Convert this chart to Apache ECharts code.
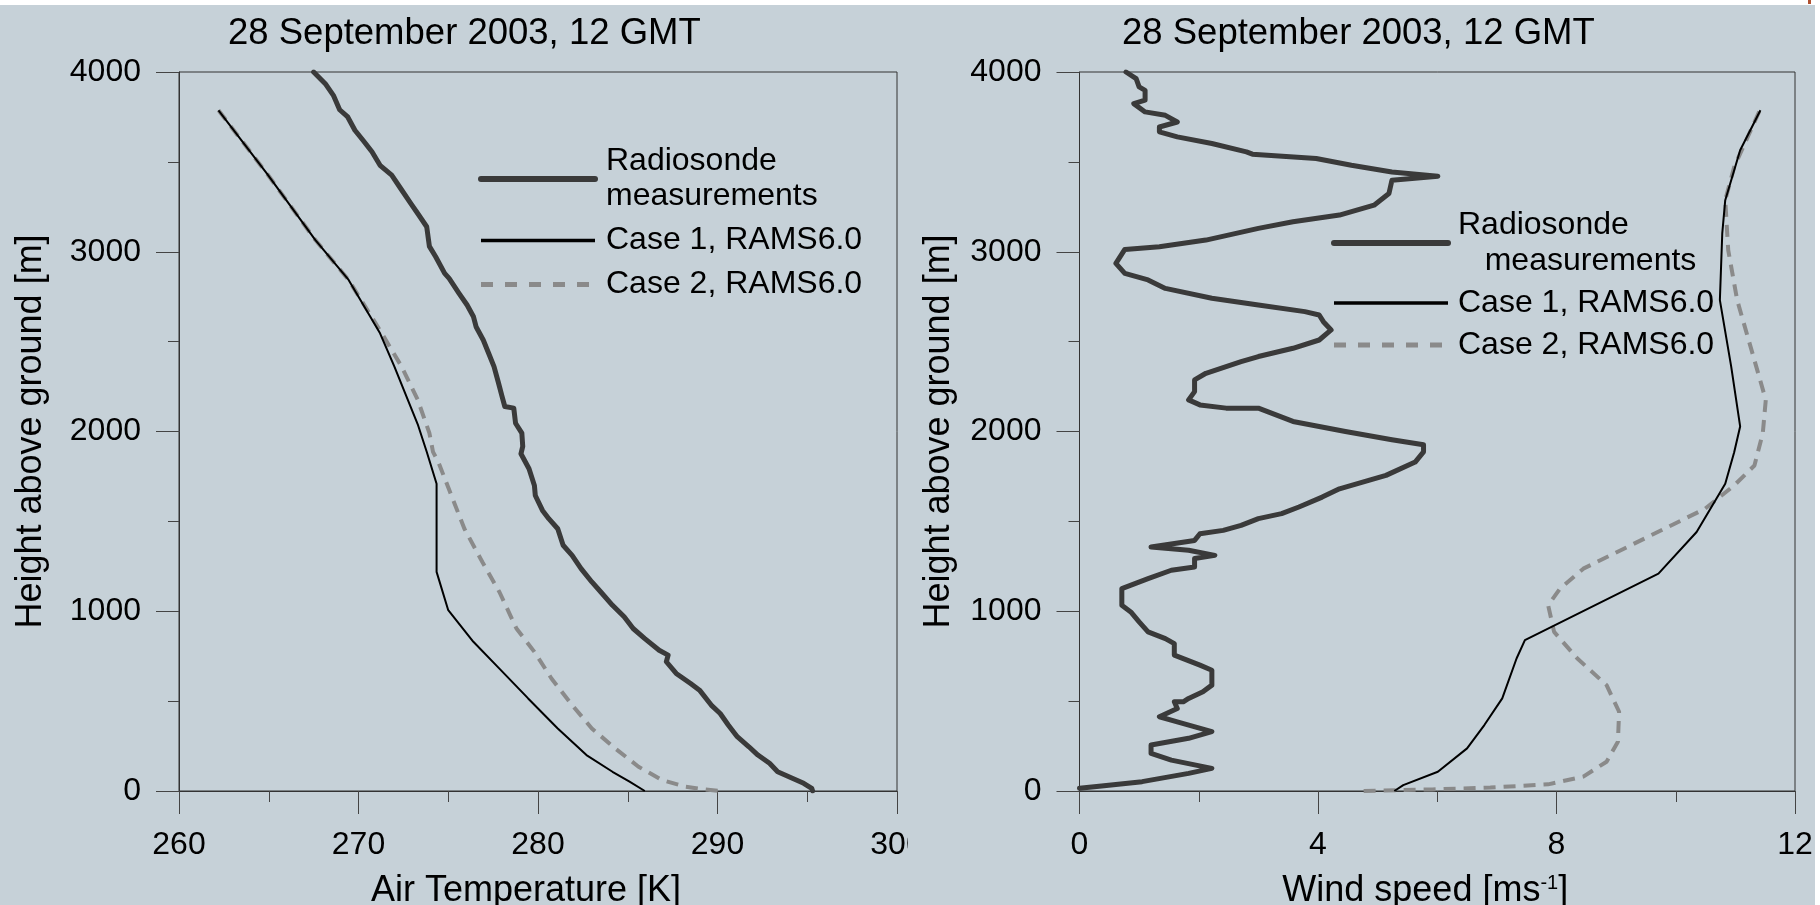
<!DOCTYPE html>
<html>
<head>
<meta charset="utf-8">
<title>Temperature and wind profiles</title>
<script src="https://cdn.jsdelivr.net/npm/echarts@6/dist/echarts.min.js"></script>
<style>
    html, body { margin: 0; padding: 0; background: #fff; }
    body { width: 1820px; height: 905px; position: relative; overflow: hidden; }
    #chartTemp { position: absolute; left: 0; top: 5px; width: 908px; height: 900px; }
    #chartWind { position: absolute; left: 908px; top: 5px; width: 907px; height: 900px; }
    #mark { position: absolute; left: 1808px; top: 0; width: 3px; height: 4px; background: #b0502f; }
</style>
</head>
<body>
<div id="chartTemp"></div>
<div id="chartWind"></div>
<div id="mark"></div>
<script>
    // titles / names
    const titleText = '28 September 2003, 12 GMT';
    const legendNames = ['Radiosonde measurements', 'Case 1, RAMS6.0', 'Case 2, RAMS6.0'];
    const heightTicks = [0, 1000, 2000, 3000, 4000];
    const tempTicks = [260, 270, 280, 290, 300];
    const windTicks = [0, 4, 8, 12];

    // air temperature [K] - radiosonde
    const tempSondeK = [267.5, 268.15, 268.6, 268.95, 269.4, 269.8, 270.25, 270.75, 271.2, 271.85, 272.35, 272.9, 273.3, 273.8, 273.95, 274.3, 274.8, 275.05, 275.6, 276.05, 276.4, 276.55, 276.95, 277.25, 277.55, 277.8, 278.0, 278.15, 278.65, 278.75, 279.1, 279.15, 279.05, 279.5, 279.8, 279.85, 280.25, 280.6, 281.1, 281.4, 281.9, 282.4, 283.0, 283.5, 284.15, 284.8, 285.3, 285.95, 286.75, 287.25, 287.15, 287.7, 288.5, 289.0, 289.65, 290.15, 290.6, 291.1, 291.75, 292.25, 292.9, 293.35, 294.2, 294.8, 295.25, 295.3];
    const tempSondeH = [4000, 3935, 3870, 3790, 3750, 3676, 3620, 3556, 3481, 3426, 3352, 3270, 3213, 3139, 3030, 2972, 2880, 2852, 2769, 2704, 2640, 2583, 2509, 2435, 2361, 2270, 2194, 2139, 2130, 2046, 1991, 1917, 1876, 1793, 1700, 1644, 1561, 1515, 1459, 1367, 1311, 1237, 1163, 1107, 1033, 969, 904, 848, 783, 756, 719, 654, 598, 561, 478, 431, 367, 302, 246, 200, 154, 107, 70, 43, 15, 0];

    // air temperature [K] - case 1
    const tempCase1K = [262.2, 264.9, 267.6, 269.45, 271.2, 272.0, 273.3, 273.8, 274.35, 274.35, 275.0, 276.4, 277.85, 279.45, 281.1, 282.7, 284.15, 285.1, 285.95];
    const tempCase1H = [3787, 3435, 3065, 2843, 2546, 2361, 2040, 1887, 1709, 1219, 1006, 830, 681, 515, 348, 200, 107, 52, 0];

    // air temperature [K] - case 2
    const tempCase2K = [262.2, 264.9, 267.6, 269.45, 271.3, 272.4, 273.3, 273.95, 274.15, 274.45, 275.1, 275.9, 276.9, 277.85, 278.8, 279.8, 280.75, 281.9, 283.0, 284.3, 285.6, 286.9, 288.2, 289.15, 290.15];
    const tempCase2H = [3787, 3435, 3065, 2843, 2546, 2361, 2176, 1991, 1887, 1830, 1663, 1459, 1274, 1107, 904, 774, 626, 478, 348, 237, 135, 61, 24, 11, 0];

    // wind speed [m/s] - radiosonde
    const windSondeV = [0.78, 0.95, 1.0, 1.1, 1.1, 0.91, 1.1, 1.44, 1.64, 1.34, 1.34, 1.64, 2.22, 2.8, 2.9, 3.97, 4.56, 5.24, 6.01, 5.24, 5.19, 4.94, 4.36, 3.58, 3.0, 2.12, 1.34, 0.76, 0.61, 0.76, 1.15, 1.44, 2.22, 3.0, 3.78, 4.02, 4.09, 4.22, 4.02, 3.58, 3.0, 2.71, 2.12, 1.93, 1.93, 1.83, 2.02, 2.46, 3.0, 3.58, 4.46, 5.24, 5.77, 5.77, 5.63, 5.14, 4.85, 4.36, 4.07, 3.68, 3.39, 3.0, 2.71, 2.41, 2.02, 1.93, 1.2, 1.83, 2.27, 1.93, 1.93, 1.54, 1.15, 0.71, 0.71, 0.86, 1.0, 1.15, 1.44, 1.59, 1.59, 2.02, 2.22, 2.22, 2.07, 1.83, 1.74, 1.59, 1.64, 1.34, 1.64, 2.22, 1.83, 1.2, 1.2, 1.54, 2.22, 1.83, 1.05, 0.37, 0];
    const windSondeH = [4000, 3963, 3917, 3898, 3843, 3824, 3778, 3759, 3722, 3694, 3667, 3639, 3602, 3556, 3543, 3519, 3481, 3444, 3420, 3398, 3324, 3259, 3204, 3167, 3130, 3065, 3028, 3013, 2935, 2880, 2843, 2796, 2741, 2704, 2667, 2648, 2611, 2565, 2509, 2463, 2417, 2389, 2324, 2287, 2222, 2176, 2148, 2130, 2130, 2056, 2000, 1954, 1926, 1887, 1830, 1756, 1728, 1681, 1635, 1580, 1543, 1515, 1478, 1450, 1431, 1394, 1357, 1339, 1311, 1293, 1246, 1228, 1181, 1126, 1033, 996, 941, 885, 848, 820, 756, 700, 672, 589, 552, 515, 496, 496, 459, 413, 385, 330, 293, 256, 209, 172, 126, 98, 52, 28, 15];

    // wind speed [m/s] - case 1
    const windCase1V = [11.42, 11.08, 10.83, 10.78, 10.74, 10.93, 11.08, 10.98, 10.83, 10.35, 9.71, 7.47, 7.33, 7.09, 6.79, 6.5, 6.01, 5.43, 5.28];
    const windCase1H = [3787, 3565, 3287, 3102, 2731, 2361, 2028, 1885, 1709, 1441, 1209, 839, 737, 515, 367, 237, 107, 33, 0];

    // wind speed [m/s] - case 2
    const windCase2V = [11.4, 10.98, 10.83, 10.88, 11.03, 11.27, 11.51, 11.46, 11.32, 10.98, 10.49, 9.81, 9.13, 8.45, 8.06, 7.86, 7.96, 8.35, 8.84, 9.05, 9.03, 8.84, 8.45, 7.86, 6.89, 5.92, 4.75];
    const windCase2H = [3780, 3472, 3287, 3009, 2731, 2454, 2176, 1991, 1811, 1700, 1570, 1459, 1348, 1237, 1126, 1033, 885, 737, 589, 441, 274, 163, 80, 37, 19, 9, 0];

    const font = "'Liberation Sans', Arial, Helvetica, sans-serif";

    function pairs(xs, hs) {
        return xs.map((x, i) => [x, hs[i]]);
    }

    function makeOption(cfg) {
        const tickStyle = { color: '#444', width: 1 };
        const noSymbol = { opacity: 0 };
        return {
            animation: false,
            backgroundColor: '#c6d1d8',
            textStyle: { fontFamily: font, color: '#000' },
            title: {
                text: titleText,
                left: cfg.titleLeft,
                top: 10,
                padding: 0,
                textStyle: { fontSize: 36.5, fontWeight: 'normal', fontFamily: font, color: '#000' }
            },
            legend: {
                orient: 'vertical',
                left: cfg.legendLeft,
                top: cfg.legendTop,
                padding: 0,
                itemWidth: 114,
                itemHeight: 14,
                itemGap: cfg.legendGap,
                selectedMode: false,
                textStyle: { fontSize: 32, fontFamily: font, color: '#000', lineHeight: cfg.legendLine, padding: [0, 0, 0, cfg.legendTextPad] },
                formatter: name => name === legendNames[0] ? cfg.sondeLabel : name,
                data: [
                    { name: legendNames[0], itemStyle: noSymbol, lineStyle: { width: 6, color: '#3a3a3a', type: 'solid' } },
                    { name: legendNames[1], itemStyle: noSymbol, lineStyle: { width: 3.5, color: '#000', type: 'solid' } },
                    { name: legendNames[2], itemStyle: noSymbol, lineStyle: { width: 5, color: '#8a8a8a', type: [12, 12] } }
                ]
            },
            grid: {
                left: cfg.gridLeft,
                top: 67,
                width: cfg.gridWidth,
                height: 719,
                show: true,
                borderColor: '#333',
                borderWidth: 1,
                backgroundColor: 'transparent',
                outerBoundsMode: 'none',
                containLabel: false
            },
            xAxis: {
                type: 'value',
                min: cfg.xTicks[0],
                max: cfg.xTicks[cfg.xTicks.length - 1],
                interval: cfg.xTicks[1] - cfg.xTicks[0],
                name: cfg.xName,
                nameLocation: 'middle',
                nameGap: 82,
                nameTextStyle: {
                    fontSize: 36, fontFamily: font, color: '#000', padding: [0, 24, 0, 0],
                    rich: { sup: { fontSize: 20, fontFamily: font, color: '#000', verticalAlign: 'top' } }
                },
                axisLine: { show: true, onZero: false, lineStyle: { color: '#333', width: 1 } },
                axisTick: { show: true, inside: false, length: 23, lineStyle: tickStyle },
                minorTick: { show: true, splitNumber: 2, length: 11, lineStyle: tickStyle },
                splitLine: { show: false },
                minorSplitLine: { show: false },
                axisLabel: { fontSize: 32, fontFamily: font, color: '#000', margin: 38, showMinLabel: true, showMaxLabel: true, hideOverlap: false, formatter: v => String(v) }
            },
            yAxis: {
                type: 'value',
                min: heightTicks[0],
                max: heightTicks[heightTicks.length - 1],
                interval: heightTicks[1] - heightTicks[0],
                name: 'Height above ground [m]',
                nameLocation: 'middle',
                nameGap: cfg.yNameGap,
                nameTextStyle: { fontSize: 36, fontFamily: font, color: '#000' },
                axisLine: { show: true, onZero: false, lineStyle: { color: '#333', width: 1 } },
                axisTick: { show: true, inside: false, length: 23, lineStyle: tickStyle },
                minorTick: { show: true, splitNumber: 2, length: 11, lineStyle: tickStyle },
                splitLine: { show: false },
                minorSplitLine: { show: false },
                axisLabel: { fontSize: 32, fontFamily: font, color: '#000', margin: 38, showMinLabel: true, showMaxLabel: true, formatter: v => String(v) }
            },
            series: [
                {
                    name: legendNames[0],
                    type: 'line',
                    symbol: 'none',
                    silent: true,
                    lineStyle: { color: '#3a3a3a', width: 5, join: 'round', cap: 'round' },
                    itemStyle: { color: '#3a3a3a' },
                    data: cfg.sonde
                },
                {
                    name: legendNames[2],
                    type: 'line',
                    symbol: 'none',
                    silent: true,
                    lineStyle: { color: '#8a8a8a', width: 4, type: [12, 8] },
                    itemStyle: { color: '#8a8a8a' },
                    data: cfg.case2
                },
                {
                    name: legendNames[1],
                    type: 'line',
                    symbol: 'none',
                    silent: true,
                    lineStyle: { color: '#000', width: 2 },
                    itemStyle: { color: '#000' },
                    data: cfg.case1
                }
            ]
        };
    }

    const tempChart = echarts.init(document.getElementById('chartTemp'), null, { renderer: 'canvas' });
    tempChart.setOption(makeOption({
        titleLeft: 228,
        legendLeft: 478,
        legendTop: 139,
        legendGap: 9,
        legendLine: 35,
        legendTextPad: 6,
        sondeLabel: 'Radiosonde\nmeasurements',
        gridLeft: 179,
        gridWidth: 718,
        xTicks: tempTicks,
        xName: 'Air Temperature [K]',
        yNameGap: 130,
        sonde: pairs(tempSondeK, tempSondeH),
        case1: pairs(tempCase1K, tempCase1H),
        case2: pairs(tempCase2K, tempCase2H)
    }));

    const windChart = echarts.init(document.getElementById('chartWind'), null, { renderer: 'canvas' });
    windChart.setOption(makeOption({
        titleLeft: 214,
        legendLeft: 423,
        legendTop: 202,
        legendGap: 6,
        legendLine: 36,
        legendTextPad: 5,
        sondeLabel: 'Radiosonde\n   measurements',
        gridLeft: 171.5,
        gridWidth: 715.5,
        xTicks: windTicks,
        xName: 'Wind speed [ms{sup|-1}]',
        yNameGap: 122,
        sonde: pairs(windSondeV, windSondeH),
        case1: pairs(windCase1V, windCase1H),
        case2: pairs(windCase2V, windCase2H)
    }));
</script>
</body>
</html>
